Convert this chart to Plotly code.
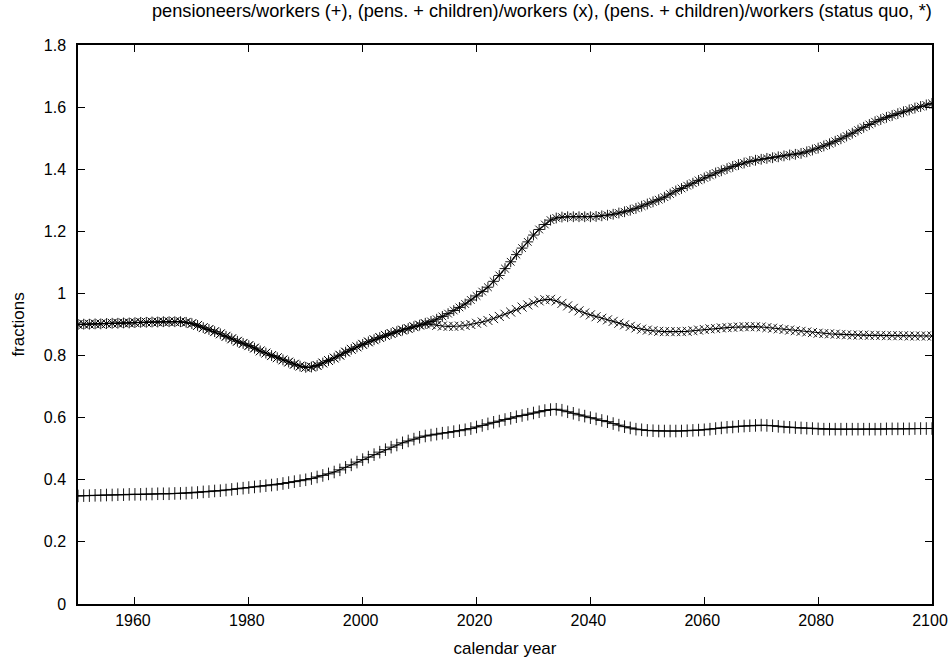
import plotly.graph_objects as go

years = list(range(1950, 2101))

status_quo = [
    0.900, 0.901, 0.901, 0.902, 0.902, 0.903, 0.904, 0.904, 0.905, 0.905,  # 1950-59
    0.906, 0.907, 0.907, 0.908, 0.908, 0.909, 0.909, 0.909, 0.909, 0.907,  # 1960-69
    0.903, 0.897, 0.890, 0.884, 0.877, 0.870, 0.862, 0.854, 0.846, 0.839,  # 1970-79
    0.832, 0.824, 0.815, 0.808, 0.800, 0.793, 0.786, 0.779, 0.772, 0.766,  # 1980-89
    0.762, 0.763, 0.768, 0.776, 0.784, 0.792, 0.801, 0.811, 0.820, 0.828,  # 1990-99
    0.836, 0.844, 0.851, 0.858, 0.865, 0.871, 0.877, 0.882, 0.887, 0.893,  # 2000-09
    0.898, 0.904, 0.910, 0.917, 0.926, 0.935, 0.945, 0.955, 0.966, 0.979,  # 2010-19
    0.992, 1.006, 1.020, 1.039, 1.058, 1.080, 1.102, 1.125, 1.146, 1.166,  # 2020-29
    1.188, 1.206, 1.222, 1.236, 1.243, 1.246, 1.247, 1.247, 1.247, 1.247,  # 2030-39
    1.247, 1.248, 1.250, 1.252, 1.255, 1.259, 1.263, 1.268, 1.274, 1.281,  # 2040-49
    1.288, 1.295, 1.302, 1.310, 1.320, 1.330, 1.338, 1.347, 1.355, 1.364,  # 2050-59
    1.372, 1.380, 1.388, 1.395, 1.402, 1.409, 1.415, 1.420, 1.425, 1.429,  # 2060-69
    1.432, 1.435, 1.437, 1.440, 1.443, 1.446, 1.448, 1.451, 1.456, 1.462,  # 2070-79
    1.468, 1.475, 1.482, 1.490, 1.498, 1.507, 1.516, 1.526, 1.535, 1.544,  # 2080-89
    1.553, 1.560, 1.567, 1.573, 1.579, 1.585, 1.591, 1.597, 1.602, 1.607,  # 2090-99
    1.612,                                                                # 2100
]

pens_children = [
    0.900, 0.901, 0.901, 0.902, 0.902, 0.903, 0.904, 0.904, 0.905, 0.905,  # 1950-59
    0.906, 0.907, 0.907, 0.908, 0.908, 0.909, 0.909, 0.909, 0.909, 0.907,  # 1960-69
    0.903, 0.897, 0.890, 0.884, 0.877, 0.870, 0.862, 0.854, 0.846, 0.839,  # 1970-79
    0.832, 0.824, 0.815, 0.808, 0.800, 0.793, 0.786, 0.779, 0.772, 0.766,  # 1980-89
    0.762, 0.763, 0.768, 0.776, 0.784, 0.792, 0.801, 0.811, 0.820, 0.828,  # 1990-99
    0.836, 0.844, 0.851, 0.858, 0.865, 0.871, 0.877, 0.882, 0.887, 0.893,  # 2000-09
    0.898, 0.902, 0.900, 0.897, 0.895, 0.894, 0.894, 0.895, 0.897, 0.900,  # 2010-19
    0.904, 0.908, 0.913, 0.919, 0.926, 0.933, 0.940, 0.948, 0.956, 0.963,  # 2020-29
    0.970, 0.976, 0.980, 0.981, 0.976, 0.968, 0.960, 0.952, 0.944, 0.937,  # 2030-39
    0.931, 0.925, 0.920, 0.915, 0.910, 0.904, 0.899, 0.894, 0.889, 0.885,  # 2040-49
    0.882, 0.880, 0.878, 0.877, 0.877, 0.877, 0.877, 0.878, 0.880, 0.882,  # 2050-59
    0.884, 0.886, 0.887, 0.889, 0.890, 0.891, 0.892, 0.893, 0.893, 0.893,  # 2060-69
    0.892, 0.890, 0.888, 0.886, 0.884, 0.882, 0.880, 0.878, 0.876, 0.874,  # 2070-79
    0.872, 0.871, 0.870, 0.869, 0.868, 0.867, 0.866, 0.866, 0.866, 0.865,  # 2080-89
    0.865, 0.865, 0.864, 0.864, 0.864, 0.864, 0.863, 0.863, 0.863, 0.863,  # 2090-99
    0.863,                                                                # 2100
]

pensioneers = [
    0.348, 0.349, 0.349, 0.350, 0.350, 0.351, 0.351, 0.352, 0.352, 0.353,  # 1950-59
    0.353, 0.353, 0.354, 0.354, 0.355, 0.355, 0.355, 0.356, 0.356, 0.357,  # 1960-69
    0.358, 0.359, 0.361, 0.362, 0.364, 0.365, 0.367, 0.369, 0.371, 0.373,  # 1970-79
    0.375, 0.377, 0.379, 0.381, 0.383, 0.385, 0.388, 0.391, 0.394, 0.397,  # 1980-89
    0.400, 0.404, 0.409, 0.414, 0.419, 0.425, 0.432, 0.440, 0.448, 0.457,  # 1990-99
    0.465, 0.473, 0.481, 0.489, 0.497, 0.505, 0.512, 0.519, 0.525, 0.531,  # 2000-09
    0.537, 0.541, 0.544, 0.547, 0.550, 0.552, 0.555, 0.558, 0.561, 0.565,  # 2010-19
    0.570, 0.575, 0.580, 0.585, 0.589, 0.594, 0.598, 0.603, 0.607, 0.611,  # 2020-29
    0.615, 0.619, 0.623, 0.626, 0.627, 0.624, 0.619, 0.614, 0.609, 0.605,  # 2030-39
    0.600, 0.596, 0.591, 0.587, 0.581, 0.576, 0.571, 0.567, 0.563, 0.561,  # 2040-49
    0.559, 0.558, 0.557, 0.557, 0.557, 0.557, 0.557, 0.558, 0.559, 0.560,  # 2050-59
    0.561, 0.563, 0.565, 0.567, 0.569, 0.570, 0.572, 0.573, 0.574, 0.575,  # 2060-69
    0.576, 0.575, 0.574, 0.572, 0.570, 0.569, 0.568, 0.567, 0.566, 0.565,  # 2070-79
    0.564, 0.563, 0.563, 0.563, 0.563, 0.563, 0.563, 0.563, 0.563, 0.563,  # 2080-89
    0.563, 0.563, 0.564, 0.564, 0.564, 0.564, 0.564, 0.565, 0.565, 0.565,  # 2090-99
    0.565,                                                                # 2100
]

x_ticks = [1960, 1980, 2000, 2020, 2040, 2060, 2080, 2100]
y_ticks = [0, 0.2, 0.4, 0.6, 0.8, 1.0, 1.2, 1.4, 1.6, 1.8]
y_tick_text = ["0", "0.2", "0.4", "0.6", "0.8", "1", "1.2", "1.4", "1.6", "1.8"]

FONT = "Liberation Sans, Arial, sans-serif"

fig = go.Figure()

series = [
    ("pensioneers/workers", pensioneers, "cross-thin"),
    ("(pens. + children)/workers", pens_children, "x-thin"),
    ("(pens. + children)/workers (status quo)", status_quo, "asterisk"),
]
for name, vals, sym in series:
    fig.add_trace(go.Scatter(
        x=years, y=vals, name=name, mode="lines+markers",
        line=dict(color="black", width=1.1),
        marker=dict(symbol=sym, size=9, color="black",
                    line=dict(color="black", width=0.9)),
        showlegend=False,
    ))

axis_common = dict(
    showline=True, linecolor="black", linewidth=1.5, mirror="allticks",
    ticks="inside", ticklen=7, tickwidth=1, tickcolor="black",
    showgrid=False, zeroline=False, automargin=False,
    ticklabeloverflow="allow",
    tickfont=dict(family=FONT, size=16, color="black"),
)

fig.update_layout(
    width=949, height=662,
    paper_bgcolor="white", plot_bgcolor="white",
    margin=dict(l=78, r=17, t=45, b=58),
    title=dict(
        text="pensioneers/workers (+), (pens. + children)/workers (x), (pens. + children)/workers (status quo, *)",
        x=0.571, xanchor="center", y=0.984, yanchor="middle",
        font=dict(family=FONT, size=18.2, color="black"),
    ),
    xaxis=dict(
        range=[1950, 2100.0001], tickvals=x_ticks, ticklabelstandoff=1,
        ticklabelshift=-2,
        title=dict(text="calendar year", font=dict(family=FONT, size=17, color="black"), standoff=14),
        **axis_common,
    ),
    yaxis=dict(
        range=[0, 1.8], tickvals=y_ticks, ticktext=y_tick_text, ticklabelstandoff=7,
        title=dict(text="fractions", font=dict(family=FONT, size=17, color="black"), standoff=15),
        **axis_common,
    ),
)

fig.write_html(
    "out.html",
    config={"displayModeBar": False},
    post_script="document.body.style.margin='0';document.body.style.overflow='hidden';",
)
